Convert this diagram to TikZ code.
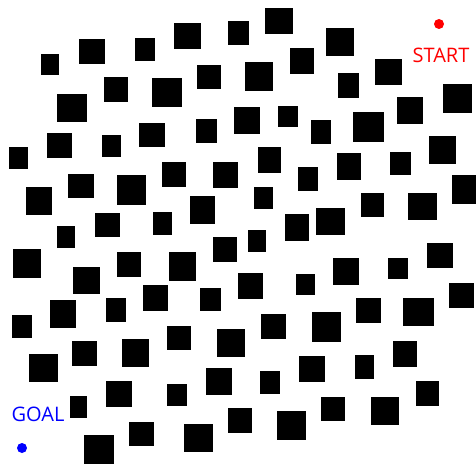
\documentclass[tikz,border=0pt]{standalone}
\usepackage{fontspec}
\setmainfont{Open Sans}

\begin{document}
\begin{tikzpicture}[x=1pt, y=-1pt]
    \useasboundingbox (0,0) rectangle (476,465);

    % obstacles (corners in pixels)
    \foreach \xa/\ya/\xb/\yb in {41/54/59/75, 79/39/105/64, 135/38/155/61, 174/23/201/49, 228/21/249/45,
        265/8/293/34, 326/28/354/56, 290/48/314/74, 245/62/273/91, 338/73/359/98, 375/59/402/85,
        443/84/472/113, 57/94/87/122, 104/77/128/102, 152/78/182/107, 197/65/221/89, 234/107/260/134,
        47/133/72/158, 102/135/121/157, 139/123/165/147, 196/119/217/143, 9/147/28/169, 278/106/298/127,
        311/120/331/144, 353/112/384/142, 397/97/423/124, 429/136/456/164, 258/147/281/173, 337/153/361/180,
        390/152/411/175, 162/162/186/187, 213/162/238/188, 68/174/94/198, 117/175/146/205, 26/187/52/215,
        190/196/215/224, 95/213/120/237, 153/212/172/235, 57/226/75/248, 213/237/237/262, 13/249/41/278,
        73/267/100/294, 117/252/141/277, 169/252/196/281, 143/285/168/311, 200/288/221/311, 50/300/76/328,
        106/298/126/322, 298/167/318/191, 452/175/476/204, 254/187/273/209, 361/193/384/217, 408/193/437/220,
        285/214/309/241, 316/208/345/235, 248/230/266/252, 427/243/453/268, 333/258/359/285, 388/258/408/279,
        238/273/263/299, 296/274/315/295, 449/283/474/308, 356/298/381/323, 403/298/434/326, 261/314/286/339,
        312/312/341/342, 12/315/32/338, 72/341/97/366, 122/339/149/367, 167/326/191/350, 217/329/245/357,
        29/354/58/382, 106/381/132/407, 167/384/187/406, 206/368/232/395, 70/396/87/418, 84/435/114/464,
        129/422/154/446, 184/424/213/452, 228/408/252/433, 299/356/325/382, 355/355/374/379, 393/341/417/367,
        260/371/280/394, 416/381/439/406, 277/411/306/440, 321/397/345/421, 371/397/399/425}
        \fill[black] (\xa,\ya) rectangle (\xb,\yb);

    % start and goal
    \node[circle, minimum size=10pt, inner sep=0, fill=red] (startpt) at (439,24) {};
    \node[inner sep=0, font=\fontsize{20}{24}\selectfont, text=red] (start) at (441,55) {START};

    \node[circle, minimum size=10pt, inner sep=0, fill=blue] (goalpt) at (22,448) {};
    \node[inner sep=0, font=\fontsize{20}{24}\selectfont, text=blue] (goal) at (38,414) {GOAL};
\end{tikzpicture}
\end{document}
